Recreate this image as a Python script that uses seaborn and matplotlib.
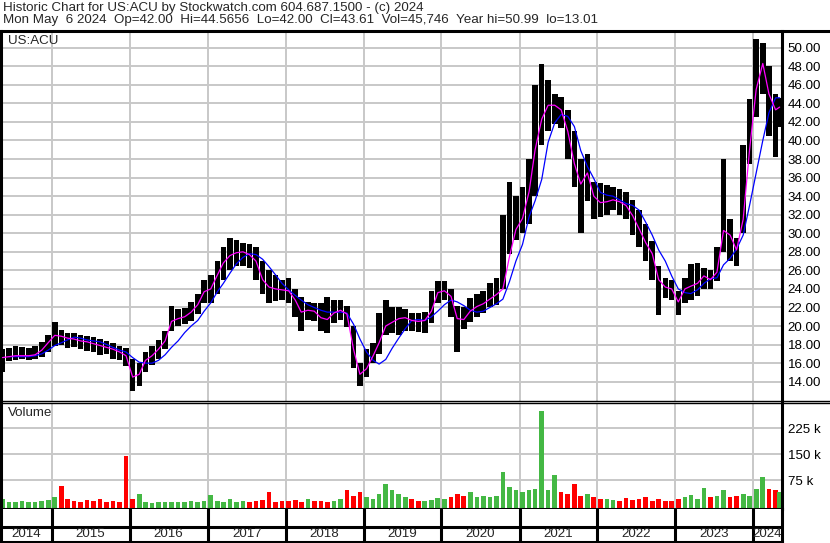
import numpy as np
import pandas as pd
import matplotlib
matplotlib.use("Agg")
import matplotlib.pyplot as plt
from matplotlib.lines import Line2D
import seaborn as sns

# one value per month, May 2014 .. May 2024
month_start = pd.date_range("2014-05-01", periods=121, freq="MS")

price_low = [
    15.0, 16.2, 16.3, 16.4, 16.3, 16.4, 16.7, 17.2,
    17.8, 18.0, 17.6, 17.7, 17.5, 17.3, 17.2, 16.9, 17.0, 16.4, 16.3, 15.7,
    13.0, 13.5, 15.0, 15.8, 16.5, 17.5, 19.5, 20.0, 20.2, 20.5, 21.3, 22.5,
    22.5, 23.5, 25.0, 26.0, 26.5, 26.5, 26.3, 25.0, 23.5, 22.5, 22.7, 22.8,
    22.5, 21.0, 19.5, 20.6, 20.5, 19.5, 19.2, 20.3, 20.6, 19.9, 15.5, 13.5,
    14.5, 16.0, 17.0, 19.0, 19.2, 19.0, 19.5, 19.5, 19.4, 19.2, 20.3, 22.5,
    22.8, 21.0, 17.2, 19.7, 20.4, 21.0, 21.4, 22.0, 22.3, 24.0, 27.8, 29.3,
    30.0, 31.0, 34.0, 39.5, 41.0, 41.8, 41.3, 38.0, 35.0, 30.0, 33.5, 31.5,
    31.7, 32.0, 32.5, 32.0, 31.5, 29.8, 28.5, 27.0, 25.0, 21.2, 23.0, 22.8,
    21.2, 22.5, 22.8, 23.2, 24.0, 24.0, 24.9, 28.0, 27.0, 26.5, 30.0, 37.5,
    42.5, 45.0, 40.5, 38.2, 41.5,
]
price_high = [
    17.5, 17.6, 17.8, 17.7, 17.6, 17.8, 18.3, 19.0,
    20.4, 19.6, 19.3, 19.2, 19.0, 18.9, 18.8, 18.6, 18.4, 18.2, 17.8, 17.6,
    16.5, 16.0, 17.2, 17.8, 18.5, 19.5, 22.2, 21.8, 21.9, 22.6, 23.5, 25.0,
    25.5, 27.0, 28.5, 29.5, 29.3, 29.0, 28.8, 28.5, 27.0, 26.0, 25.5, 25.0,
    25.2, 24.0, 23.1, 22.6, 22.5, 22.5, 23.1, 22.8, 22.8, 22.2, 20.0, 16.0,
    17.5, 18.2, 21.4, 22.8, 22.0, 22.0, 21.8, 21.4, 21.4, 21.5, 23.8, 24.9,
    24.9, 24.0, 22.2, 22.0, 23.0, 23.5, 23.8, 24.6, 25.2, 32.0, 35.5, 34.0,
    35.0, 38.0, 46.0, 48.2, 46.5, 45.0, 44.7, 43.3, 41.0, 38.0, 38.5, 35.5,
    35.4, 35.2, 35.0, 34.8, 34.4, 33.6, 32.5, 31.0, 29.2, 26.5, 25.2, 25.0,
    23.8, 25.2, 26.7, 26.8, 26.3, 26.0, 28.5, 38.0, 31.5, 29.5, 39.5, 44.5,
    50.9, 50.5, 48.0, 45.0, 44.6,
]
ma_short = [
    16.6, 16.7, 16.8, 16.8, 16.8, 16.9, 17.4, 18.2,
    19.0, 18.9, 18.7, 18.6, 18.4, 18.3, 18.1, 17.9, 17.7, 17.5, 17.2, 16.8,
    14.5, 14.8, 16.3, 16.8, 17.5, 18.4, 20.5, 20.8, 21.0, 21.5, 22.3, 23.7,
    24.0, 25.5, 26.8, 27.6, 27.9, 28.0, 27.7, 27.0, 25.0, 24.2, 24.0, 23.9,
    23.8, 22.8, 21.5, 21.7, 21.6, 20.9, 20.7, 21.4, 21.7, 21.3, 17.5, 14.8,
    15.4, 16.8, 18.2, 20.0, 20.4, 20.8, 20.9, 20.6, 20.5, 20.6, 21.6, 23.6,
    23.8, 23.2, 20.8, 20.7, 21.6, 22.1, 22.4, 22.9, 23.4, 24.0, 27.5, 30.4,
    31.6, 34.5, 39.0, 42.3, 43.8, 43.8, 43.3, 41.0, 37.5, 35.3, 36.5, 34.0,
    33.3, 33.4, 33.6, 33.4, 33.0, 31.9, 30.5, 29.0, 27.8, 25.0, 24.2, 24.0,
    22.6, 24.0, 24.3, 24.6, 25.4, 25.0, 25.8, 30.3, 29.8, 28.2, 31.5, 39.0,
    45.5, 48.3, 45.0, 43.3, 43.6,
]
ma_long = [
    np.nan, 16.7, 16.7, 16.7, 16.7, 16.8, 17.0, 17.4,
    17.9, 18.2, 18.5, 18.8, 18.7, 18.5, 18.4, 18.3, 18.0, 17.7, 17.4, 17.2,
    16.6, 16.1, 16.0, 16.0, 16.3, 16.9, 17.7, 18.4, 19.3, 20.0, 20.6, 21.6,
    22.5, 23.7, 24.6, 25.7, 26.7, 27.4, 27.8, 27.7, 27.2, 26.4, 25.5, 24.6,
    23.9, 23.3, 22.8, 22.3, 22.0, 21.7, 21.5, 21.5, 21.5, 21.4, 20.2, 18.6,
    17.2, 16.3, 15.9, 16.4, 17.6, 18.7, 19.7, 20.6, 20.7, 20.6, 21.0, 21.6,
    22.3, 22.8, 22.6, 22.2, 21.7, 21.5, 21.6, 22.0, 22.4, 22.9, 24.8, 27.0,
    28.8, 31.8, 33.5, 35.8, 39.8, 41.9, 42.8, 42.6, 41.5, 38.9, 37.2, 35.9,
    34.4, 34.1, 34.0, 33.6, 33.2, 33.0, 32.5, 31.2, 29.8, 28.2, 27.0, 25.4,
    24.0, 23.6, 23.5, 23.9, 24.6, 25.1, 25.2, 26.6, 27.3, 28.3, 29.8, 33.0,
    36.5, 40.0, 43.0, 44.6, 44.6,
]
volume_k = [
    20, 12, 10, 15, 10, 12, 14, 18,
    25, 58, 20, 15, 12, 18, 15, 20, 12, 15, 12, 145,
    20, 35, 10, 8, 10, 12, 10, 12, 10, 15, 12, 14,
    32, 15, 12, 20, 10, 15, 12, 15, 18, 40, 12, 15,
    15, 18, 12, 20, 15, 15, 12, 15, 20, 46, 30, 41,
    25, 20, 35, 63, 45, 35, 25, 20, 15, 15, 18, 22,
    20, 25, 35, 30, 41, 25, 30, 25, 30, 98, 55, 45,
    40, 45, 50, 275, 45, 90, 40, 35, 63, 30, 35, 25,
    20, 20, 18, 15, 22, 18, 20, 25, 15, 20, 15, 15,
    20, 25, 31, 20, 52, 25, 30, 46, 25, 30, 34, 30,
    49, 84, 50, 45, 40,
]
price_ticks = list(range(14, 52, 2))
volume_ticks = [75, 150, 225]
years = list(range(2014, 2025))

header1 = "Historic Chart for US:ACU by Stockwatch.com 604.687.1500 - (c) 2024"
header2 = ("Mon May  6 2024  Op=42.00  Hi=44.5656  Lo=42.00  Cl=43.61  "
           "Vol=45,746  Year hi=50.99  lo=13.01")

df = pd.DataFrame({
    "date": month_start + pd.Timedelta(days=14),
    "low": price_low, "high": price_high,
    "ma_short": ma_short, "ma_long": ma_long, "volume": volume_k,
})
df.loc[df.index[-1], "date"] = pd.Timestamp("2024-05-04")
df["up"] = df["ma_short"].diff().fillna(0) >= 0

sns.set_style("white")
plt.rcParams["font.family"] = ["Liberation Sans", "DejaVu Sans"]
FS = 9
FS_HEAD = 9.6
GRID = "#c8c8c8"

W, H = 830, 543
fig = plt.figure(figsize=(W / 100, H / 100), dpi=100)

def box(x0, y0, x1, y1):
    # pixel box (top-left origin) -> figure fraction rect
    return [x0 / W, 1 - y1 / H, (x1 - x0) / W, (y1 - y0) / H]

ax = fig.add_axes(box(1, 31, 782, 401))
axv = fig.add_axes(box(1, 403, 782, 509))
axy = fig.add_axes(box(1, 509, 782, 541.5))

xmin = pd.Timestamp("2014-05-08")
xmax = pd.Timestamp("2024-05-15")
year_starts = [pd.Timestamp(f"{y}-01-01") for y in years[1:]]

# price panel
ax.bar(df["date"], df["high"] - df["low"], bottom=df["low"], width=26,
       color="black", linewidth=0, zorder=2)
sns.lineplot(data=df, x="date", y="ma_long", color="#0000ff", lw=0.9,
             ax=ax, zorder=3)
sns.lineplot(data=df, x="date", y="ma_short", color="#ff00ff", lw=0.9,
             ax=ax, zorder=4)
ax.set_ylim(11.92, 51.80)
ax.set_yticks(price_ticks)
ax.set_yticklabels([f"{t:.2f}" for t in price_ticks])

# volume panel
vol_colors = ["#44b844" if u else "#ff0000" for u in df["up"]]
axv.bar(df["date"], df["volume"] + 9.1, bottom=-9.1, width=22,
        color=vol_colors, linewidth=0, zorder=2)
axv.set_ylim(-9.1, 298.4)
axv.set_yticks(volume_ticks)
axv.set_yticklabels([f"{t} k" for t in volume_ticks])

for a in (ax, axv):
    a.set_xlim(xmin, xmax)
    a.set_xticks(year_starts)
    a.set_xticklabels([])
    a.yaxis.tick_right()
    a.tick_params(axis="both", length=0, labelsize=FS_HEAD, pad=4,
                  labelcolor="black")
    a.grid(True, color=GRID, lw=1.4)
    a.set_axisbelow(True)
    a.set_xlabel("")
    a.set_ylabel("")
    for s in ("left", "right"):
        a.spines[s].set_linewidth(2.2)
        a.spines[s].set_color("black")
    a.spines["top"].set_visible(False)
    a.spines["bottom"].set_visible(False)
axv.spines["bottom"].set_visible(True)
axv.spines["bottom"].set_linewidth(2.2)
axv.spines["bottom"].set_color("black")

# year strip
axy.set_xlim(xmin, xmax)
axy.set_ylim(0, 2)
axy.set_xticks([])
axy.set_yticks([])
for s in axy.spines.values():
    s.set_linewidth(2.2)
    s.set_color("black")
axy.spines["top"].set_visible(False)
axy.axhline(0.89, color="black", lw=2.2)
for ys in year_starts:
    axy.axvline(ys, color="black", lw=2.2)
edges = [xmin] + year_starts + [xmax]
for i, y in enumerate(years):
    mid = edges[i] + (edges[i + 1] - edges[i]) / 2
    axy.text(mid, 0.44, str(y), ha="center", va="center", fontsize=FS_HEAD)

# frame lines reaching the right edge
for yp, lw in ((30.5, 2.2), (400.8, 1.0), (402.8, 1.0)):
    fig.add_artist(Line2D([0, 1], [1 - yp / H] * 2, color="black", lw=lw))

fig.text(3 / W, 1 - 8 / H, header1, fontsize=FS_HEAD, va="center")
fig.text(3 / W, 1 - 19.5 / H, header2, fontsize=FS_HEAD, va="center")
fig.text(8 / W, 1 - 41 / H, "US:ACU", fontsize=FS_HEAD, va="center")
fig.text(8 / W, 1 - 413 / H, "Volume", fontsize=FS_HEAD, va="center")

fig.savefig("out.png", dpi=100)
